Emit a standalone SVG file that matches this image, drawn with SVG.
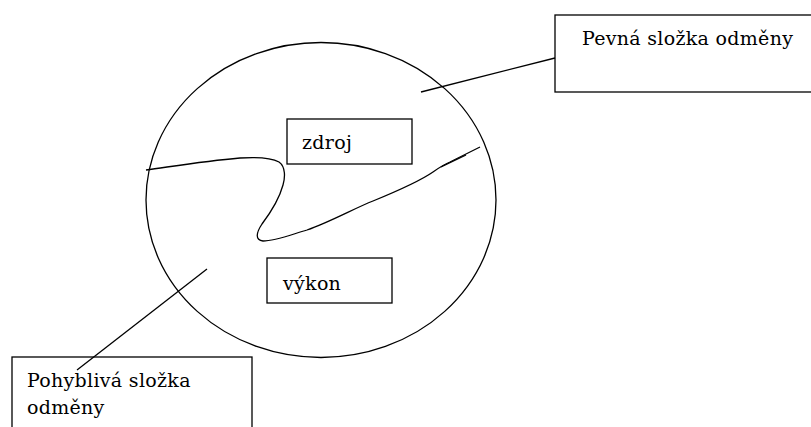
<svg xmlns="http://www.w3.org/2000/svg" width="811" height="427" viewBox="0 0 811 427">
<style>
.box{fill:#fff;stroke:#000;stroke-width:1.3}
.ln{fill:none;stroke:#000;stroke-width:1.3}
.t{font-family:'DejaVu Serif',serif;font-size:19px;fill:#000;letter-spacing:0.3px}
</style>
<rect width="811" height="427" fill="#fff"/>
<g id="circle"><ellipse class="ln" cx="321" cy="200" rx="175" ry="157.5"/></g>
<g id="zdroj"><rect class="box" x="287" y="119" width="125" height="45"/><text class="t" x="302" y="149">zdroj</text></g>
<g id="vykon"><rect class="box" x="267" y="258" width="125" height="45"/><text class="t" x="283" y="290">výkon</text></g>
<g id="pevna"><rect class="box" x="555" y="15" width="270" height="77"/><text class="t" x="582" y="45">Pevná složka odměny</text></g>
<g id="pohybliva"><rect class="box" x="12" y="357" width="240" height="90"/><text class="t" x="27" y="387">Pohyblivá složka</text><text class="t" x="27" y="414">odměny</text></g>
<g id="connectors">
<line class="ln" x1="421" y1="92" x2="555" y2="58"/>
<line class="ln" x1="207" y1="269" x2="77" y2="370"/>
<path class="ln" d="M146,170 C175,166 205,161 240,158 C255,157 270,157 279,162 C286,167 285,178 283,185 C279,200 271,212 262,224 C256,233 255,240 263,241 C275,241 290,235 307,230 C330,222 355,208 373,201 C395,192 420,181 433,172 C440,167 445,164 450,162 C460,157 470,152 480,147"/>
<path class="ln" d="M441,167 L466,155" stroke-width="2"/>
</g>
</svg>
